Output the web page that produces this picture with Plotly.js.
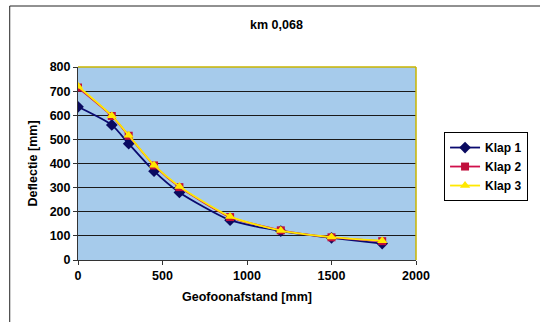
<!DOCTYPE html>
<html>
<head>
<meta charset="utf-8">
<script src="https://cdn.plot.ly/plotly-3.0.1.min.js"></script>
<style>html,body{margin:0;padding:0;background:#fff;}#chart{width:540px;height:322px;}</style>
</head>
<body>
<div id="chart"></div>
<script>
const afstand = [0, 200, 300, 450, 600, 900, 1200, 1500, 1800];
const klap1 = [635, 560, 482, 368, 280, 165, 120, 92, 68];
const klap2 = [715, 597, 515, 392, 302, 178, 123, 94, 78];
const klap3 = [720, 598, 517, 393, 305, 180, 122, 95, 80];
const seriesNames = ["Klap 1", "Klap 2", "Klap 3"];
const xTicks = [0, 500, 1000, 1500, 2000];
const yTicks = [0, 100, 200, 300, 400, 500, 600, 700, 800];

const font = "Liberation Sans, Arial, sans-serif";
const b = s => "<b>" + s + "</b>";
const traces = [
  {x: afstand, y: klap1, name: b(seriesNames[0]), mode: "lines+markers",
   line: {color: "#0a0a70", width: 1.8, shape: "spline", smoothing: 0.6},
   marker: {symbol: "diamond", size: 9, color: "#0a0a60"}},
  {x: afstand, y: klap2, name: b(seriesNames[1]), mode: "lines+markers",
   line: {color: "#d0104c", width: 1.8, shape: "spline", smoothing: 0.6},
   marker: {symbol: "square", size: 8, color: "#c0103c"}},
  {x: afstand, y: klap3, name: b(seriesNames[2]), mode: "lines+markers",
   line: {color: "#ffe800", width: 1.8, shape: "spline", smoothing: 0.6},
   marker: {symbol: "triangle-up", size: 9, color: "#ffe800"}}
];

const layout = {
  width: 540, height: 322,
  margin: {l: 78, r: 113, t: 67, b: 62},
  paper_bgcolor: "#ffffff",
  plot_bgcolor: "#a6cbeb",
  font: {family: font, color: "#000", size: 12},
  title: {text: b("km 0,068"), x: 0.512, xref: "container", xanchor: "center",
          y: 0.922, yref: "container", yanchor: "middle",
          font: {family: font, size: 12.5, color: "#000"}},
  xaxis: {range: [0, 2000], tickvals: xTicks, ticktext: xTicks.map(v => b(v)),
          showgrid: false, zeroline: false, showline: true, linecolor: "#333",
          linewidth: 1, ticks: "outside", ticklen: 4, tickcolor: "#333",
          tickfont: {family: font, size: 12.5, color: "#000"},
          title: {text: b("Geofoonafstand [mm]"), standoff: 10,
                  font: {family: font, size: 12.5, color: "#000"}}},
  yaxis: {range: [0, 800], tickvals: yTicks, ticktext: yTicks.map(v => b(v)),
          showgrid: true, gridcolor: "#1a1a1a", gridwidth: 1,
          zeroline: false, showline: true, linecolor: "#333", linewidth: 1,
          ticks: "outside", ticklen: 4, tickcolor: "#333",
          tickfont: {family: font, size: 12.5, color: "#000"},
          title: {text: b("Deflectie [mm]"), standoff: 9,
                  font: {family: font, size: 12.5, color: "#000"}}},
  legend: {x: 1.083, xanchor: "left", y: 0.663, yanchor: "top",
           bordercolor: "#000", borderwidth: 1, bgcolor: "#fff",
           font: {family: font, size: 12, color: "#000"},
           tracegroupgap: 0, itemwidth: 30},
  showlegend: true,
  shapes: [
    {type: "line", xref: "paper", yref: "paper", x0: -0.202, x1: 1.4, y0: 1.316, y1: 1.316,
     line: {color: "#222", width: 1}},
    {type: "line", xref: "paper", yref: "paper", x0: -0.202, x1: -0.202, y0: 1.316, y1: -0.4,
     line: {color: "#222", width: 1}},
    {type: "line", xref: "paper", yref: "paper", x0: 0, x1: 1, y0: 1, y1: 1,
     line: {color: "#c8b400", width: 1.5}},
    {type: "line", xref: "paper", yref: "paper", x0: 1, x1: 1, y0: 0, y1: 1,
     line: {color: "#c8b400", width: 1.5}}
  ]
};

Plotly.newPlot("chart", traces, layout, {displayModeBar: false, staticPlot: true});
</script>
</body>
</html>
